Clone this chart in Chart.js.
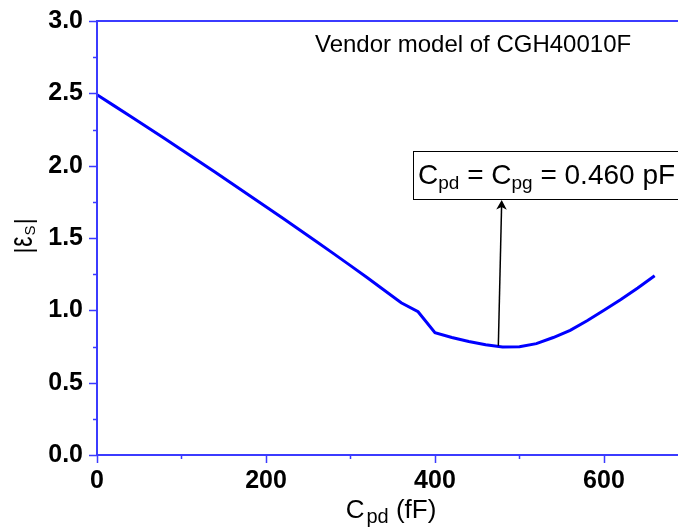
<!DOCTYPE html>
<html>
<head>
<meta charset="utf-8">
<script src="https://cdn.jsdelivr.net/npm/chart.js@4/dist/chart.umd.min.js"></script>
<style>
    html, body { margin: 0; padding: 0; background: #fff; }
    #wrap { width: 678px; height: 531px; overflow: hidden; position: relative; }
    canvas { display: block; }
</style>
</head>
<body>
<div id="wrap"><canvas id="epsChart" width="700" height="531"></canvas></div>
<script>
// C_pd sweep (fF) and |eps_S| from the vendor model
const cpd = [0, 20, 40, 60, 80, 100, 120, 140, 160, 180, 200, 220, 240, 260, 280, 300,
    320, 340, 360, 380, 400, 420, 440, 460, 480, 500, 520, 540, 560, 580, 600, 620, 640, 660];
const epsS = [2.49, 2.415, 2.340, 2.264, 2.187, 2.110, 2.032, 1.954, 1.875, 1.796, 1.716,
    1.636, 1.555, 1.474, 1.392, 1.309, 1.225, 1.139, 1.052, 0.990, 0.845, 0.812, 0.785,
    0.762, 0.746, 0.748, 0.770, 0.812, 0.862, 0.928, 1.000, 1.075, 1.155, 1.239];

const xTicks = [0, 200, 400, 600];
const yTicks = [0, 0.5, 1.0, 1.5, 2.0, 2.5, 3.0];

const FONT = "'Liberation Sans', Arial, sans-serif";
const AXIS_BLUE = '#3b3bff';

// draws a run of [text, isSub] pieces starting at x, returns end x
function drawRuns(ctx, runs, x, y, size, subSize, subDrop) {
    runs.forEach(([txt, sub]) => {
        ctx.font = (sub ? subSize : size) + 'px ' + FONT;
        ctx.fillText(txt, x, sub ? y + subDrop : y);
        x += ctx.measureText(txt).width;
    });
    return x;
}

function runsWidth(ctx, runs, size, subSize) {
    let w = 0;
    runs.forEach(([txt, sub]) => {
        ctx.font = (sub ? subSize : size) + 'px ' + FONT;
        w += ctx.measureText(txt).width;
    });
    return w;
}

const framePlugin = {
    id: 'frame',
    afterDraw(chart) {
        const ctx = chart.ctx;
        const xs = chart.scales.x, ys = chart.scales.y;
        const a = chart.chartArea;
        ctx.save();

        // axes and top border
        ctx.strokeStyle = AXIS_BLUE;
        ctx.lineWidth = 2;
        ctx.beginPath();
        ctx.moveTo(a.left, a.top);
        ctx.lineTo(a.right, a.top);
        ctx.moveTo(a.left, a.top - 1);
        ctx.lineTo(a.left, a.bottom + 1);
        ctx.moveTo(a.left, a.bottom);
        ctx.lineTo(a.right, a.bottom);
        ctx.stroke();

        // major + minor ticks, pointing out
        ctx.lineWidth = 1.5;
        ctx.beginPath();
        for (let v = 0; v <= 3.0001; v += 0.25) {
            const py = Math.round(ys.getPixelForValue(v)) + 0.5;
            const len = Math.abs(v * 2 - Math.round(v * 2)) < 1e-6 ? 8 : 4;
            ctx.moveTo(a.left - len, py);
            ctx.lineTo(a.left, py);
        }
        for (let v = 0; v <= 690; v += 100) {
            const px = Math.round(xs.getPixelForValue(v)) + 0.5;
            const len = v % 200 === 0 ? 8 : 4;
            ctx.moveTo(px, a.bottom);
            ctx.lineTo(px, a.bottom + len);
        }
        ctx.stroke();

        // x axis title: C_pd (fF)
        ctx.fillStyle = '#000';
        ctx.textBaseline = 'alphabetic';
        ctx.textAlign = 'left';
        const xRuns = [['C', false], ['pd', true], [' (fF)', false]];
        const xw = runsWidth(ctx, xRuns, 26, 20) + 2;
        let cx = 391 - xw / 2;
        ctx.font = '26px ' + FONT;
        ctx.fillText('C', cx, 518);
        cx += ctx.measureText('C').width + 2;
        drawRuns(ctx, xRuns.slice(1), cx, 518, 26, 20, 5);

        // y axis title: |eps_S|, rotated
        ctx.save();
        ctx.translate(32, 236);
        ctx.rotate(-Math.PI / 2);
        ctx.font = '23px ' + FONT;
        const barW = ctx.measureText('|').width;
        const epsW = ctx.measureText('\u03b5').width;
        ctx.font = '15px ' + FONT;
        const sW = ctx.measureText('S').width;
        let ty0 = -(barW * 2 + epsW + sW + 3) / 2;
        ctx.font = '23px ' + FONT;
        ctx.fillText('|', ty0, 0);
        ty0 += barW + 1;
        ctx.save();
        ctx.translate(ty0, 0);
        ctx.scale(1, 1.45);
        ctx.fillText('\u03b5', 0, 0);
        ctx.restore();
        ty0 += epsW + 1;
        ctx.font = '15px ' + FONT;
        ctx.fillText('S', ty0, 3);
        ty0 += sW + 1;
        ctx.font = '23px ' + FONT;
        ctx.fillText('|', ty0, 0);
        ctx.restore();

        // model label
        ctx.font = '24px ' + FONT;
        ctx.fillText('Vendor model of CGH40010F', xs.getPixelForValue(258), ys.getPixelForValue(2.787));

        // annotation box with arrow to the minimum
        const boxRuns = [['C', false], ['pd', true], [' = C', false], ['pg', true], [' = 0.460 pF', false]];
        const bl = xs.getPixelForValue(374);
        const bt = ys.getPixelForValue(2.1);
        const bb = ys.getPixelForValue(1.77);
        const bw = runsWidth(ctx, boxRuns, 28, 19) + 8;
        ctx.fillStyle = '#fff';
        ctx.fillRect(bl, bt, bw, bb - bt);
        ctx.strokeStyle = '#000';
        ctx.lineWidth = 1;
        ctx.strokeRect(Math.round(bl) + 0.5, Math.round(bt) + 0.5, bw, Math.round(bb - bt));
        ctx.fillStyle = '#000';
        drawRuns(ctx, boxRuns, bl + 5, bt + 33, 28, 19, 5);

        const tx = xs.getPixelForValue(475), ty = ys.getPixelForValue(0.755);
        const hx = xs.getPixelForValue(479), hy = bb + 1;
        const ang = Math.atan2(hy - ty, hx - tx);
        ctx.lineWidth = 1.5;
        ctx.beginPath();
        ctx.moveTo(tx, ty);
        ctx.lineTo(hx - Math.cos(ang) * 6, hy - Math.sin(ang) * 6);
        ctx.stroke();
        ctx.beginPath();
        ctx.moveTo(hx, hy);
        ctx.lineTo(hx - Math.cos(ang - 0.5) * 11, hy - Math.sin(ang - 0.5) * 11);
        ctx.lineTo(hx - Math.cos(ang) * 7, hy - Math.sin(ang) * 7);
        ctx.lineTo(hx - Math.cos(ang + 0.5) * 11, hy - Math.sin(ang + 0.5) * 11);
        ctx.closePath();
        ctx.fill();

        ctx.restore();
    }
};

const ctx = document.getElementById('epsChart').getContext('2d');
new Chart(ctx, {
    type: 'line',
    data: {
        datasets: [{
            data: cpd.map((c, i) => ({ x: c, y: epsS[i] })),
            borderColor: '#0000ff',
            borderWidth: 3,
            pointRadius: 0,
            tension: 0,
            fill: false
        }]
    },
    options: {
        responsive: false,
        devicePixelRatio: 1,
        animation: false,
        layout: { padding: { top: 19, right: 20, left: 0, bottom: 0 } },
        plugins: { legend: { display: false }, tooltip: { enabled: false } },
        scales: {
            x: {
                type: 'linear',
                min: 0,
                max: 690,
                grid: { display: false },
                border: { display: false },
                afterBuildTicks: scale => { scale.ticks = xTicks.map(v => ({ value: v })); },
                afterFit: scale => { scale.height = 76; },
                ticks: {
                    color: '#000',
                    padding: 3,
                    maxRotation: 0,
                    font: { family: FONT, size: 25, weight: 'bold' }
                }
            },
            y: {
                type: 'linear',
                min: 0,
                max: 3.0,
                grid: { display: false },
                border: { display: false },
                afterBuildTicks: scale => { scale.ticks = yTicks.map(v => ({ value: v })); },
                afterFit: scale => { scale.width = 97; },
                ticks: {
                    color: '#000',
                    padding: 6,
                    font: { family: FONT, size: 25, weight: 'bold' },
                    callback: v => v.toFixed(1)
                }
            }
        }
    },
    plugins: [framePlugin]
});
</script>
</body>
</html>
